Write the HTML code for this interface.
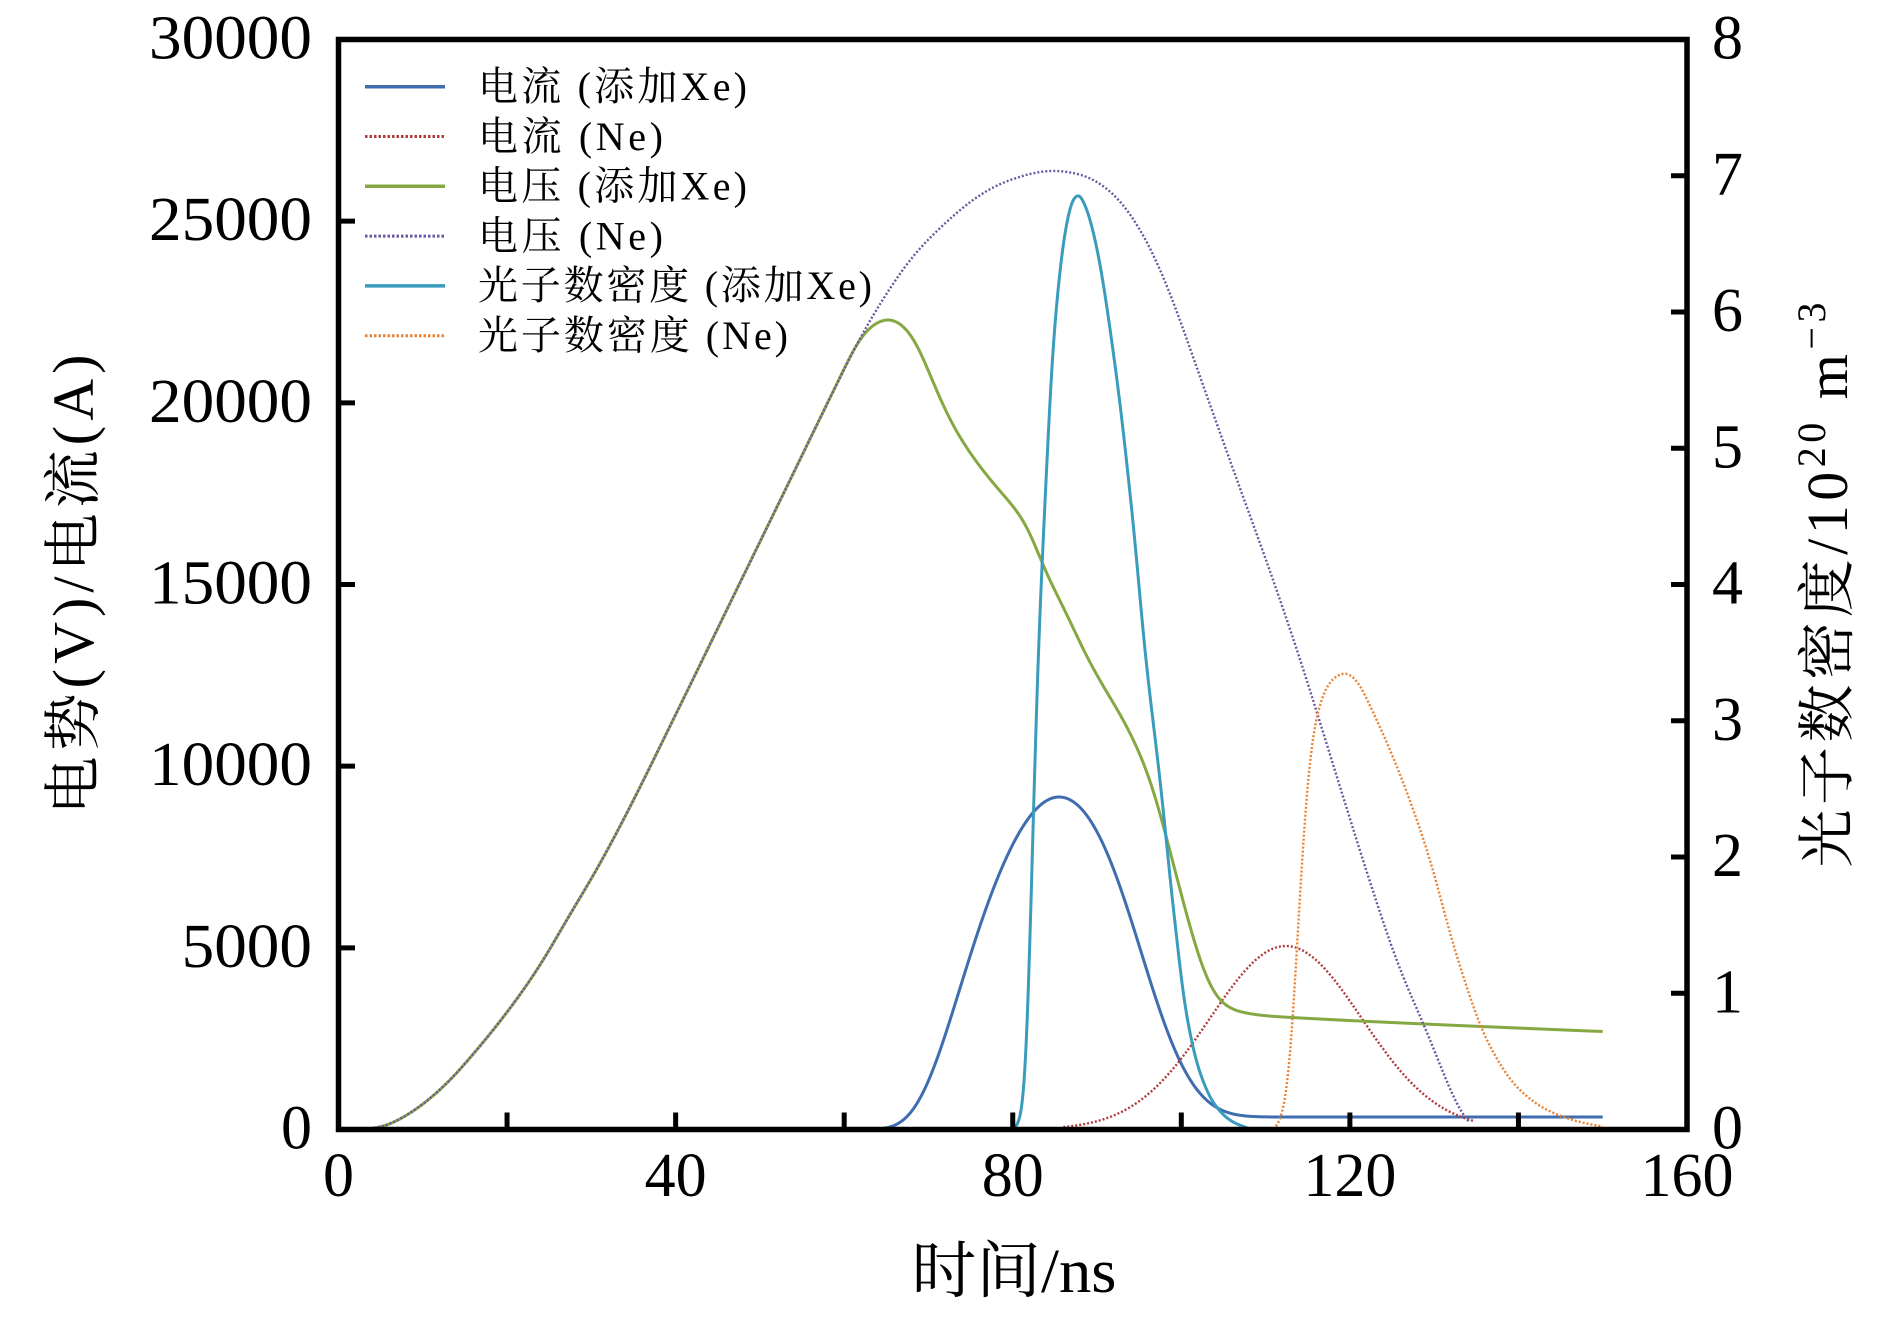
<!DOCTYPE html>
<html>
<head>
<meta charset="utf-8">
<style>
  html, body { margin: 0; padding: 0; background: #ffffff; }
  body { width: 1890px; height: 1323px; overflow: hidden; }
  svg { display: block; }
  .num { font-family: "Liberation Serif", serif; font-size: 62px; fill: #000; }
  .lab { font-family: "Liberation Serif", "Noto Serif CJK SC", serif; font-size: 58px; fill: #000; }
  .leg { font-family: "Liberation Serif", "Noto Serif CJK SC", serif; font-size: 40px; fill: #000; }
</style>
</head>
<body>
<svg id="chart" width="1890" height="1323" viewBox="0 0 1890 1323" xmlns="http://www.w3.org/2000/svg">
  <rect x="0" y="0" width="1890" height="1323" fill="#ffffff"/>

  <!-- curves (filled by script) -->
  <g id="curves" fill="none" stroke-linejoin="round"></g>

  <!-- frame -->
  <rect x="338.5" y="39.5" width="1348.5" height="1090" fill="none" stroke="#000" stroke-width="5.5"/>

  <!-- ticks -->
  <g stroke="#000" stroke-width="5">
    <line x1="338.5" x2="355" y1="947.83" y2="947.83"/>
    <line x1="338.5" x2="355" y1="766.17" y2="766.17"/>
    <line x1="338.5" x2="355" y1="584.5" y2="584.5"/>
    <line x1="338.5" x2="355" y1="402.83" y2="402.83"/>
    <line x1="338.5" x2="355" y1="221.17" y2="221.17"/>
    <line x1="1671" x2="1687" y1="993.25" y2="993.25"/>
    <line x1="1671" x2="1687" y1="857" y2="857"/>
    <line x1="1671" x2="1687" y1="720.75" y2="720.75"/>
    <line x1="1671" x2="1687" y1="584.5" y2="584.5"/>
    <line x1="1671" x2="1687" y1="448.25" y2="448.25"/>
    <line x1="1671" x2="1687" y1="312" y2="312"/>
    <line x1="1671" x2="1687" y1="175.75" y2="175.75"/>
    <line x1="507.06" x2="507.06" y1="1129.5" y2="1112.5"/>
    <line x1="675.63" x2="675.63" y1="1129.5" y2="1112.5"/>
    <line x1="844.19" x2="844.19" y1="1129.5" y2="1112.5"/>
    <line x1="1012.75" x2="1012.75" y1="1129.5" y2="1112.5"/>
    <line x1="1181.31" x2="1181.31" y1="1129.5" y2="1112.5"/>
    <line x1="1349.88" x2="1349.88" y1="1129.5" y2="1112.5"/>
    <line x1="1518.44" x2="1518.44" y1="1129.5" y2="1112.5"/>
  </g>

  <!-- left tick labels -->
  <g class="num" text-anchor="end">
    <text x="312" y="58.5" textLength="163" lengthAdjust="spacingAndGlyphs">30000</text>
    <text x="312" y="240.2" textLength="163" lengthAdjust="spacingAndGlyphs">25000</text>
    <text x="312" y="421.8" textLength="163" lengthAdjust="spacingAndGlyphs">20000</text>
    <text x="312" y="603.5" textLength="163" lengthAdjust="spacingAndGlyphs">15000</text>
    <text x="312" y="785.2" textLength="163" lengthAdjust="spacingAndGlyphs">10000</text>
    <text x="312" y="966.8" textLength="130.4" lengthAdjust="spacingAndGlyphs">5000</text>
    <text x="312" y="1148.5">0</text>
  </g>

  <!-- right tick labels -->
  <g class="num" text-anchor="start">
    <text x="1712" y="58.5">8</text>
    <text x="1712" y="194.75">7</text>
    <text x="1712" y="331">6</text>
    <text x="1712" y="467.25">5</text>
    <text x="1712" y="603.5">4</text>
    <text x="1712" y="739.75">3</text>
    <text x="1712" y="876">2</text>
    <text x="1712" y="1012.25">1</text>
    <text x="1712" y="1148.5">0</text>
  </g>

  <!-- bottom tick labels -->
  <g class="num" text-anchor="middle">
    <text x="338.5" y="1196">0</text>
    <text x="675.6" y="1196">40</text>
    <text x="1012.75" y="1196">80</text>
    <text x="1349.9" y="1196">120</text>
    <text x="1687" y="1196">160</text>
  </g>

  <!-- axis titles -->
  <text class="lab" x="1014" y="1292" text-anchor="middle" style="font-size:62px" textLength="205" lengthAdjust="spacingAndGlyphs">时间/ns</text>
  <text class="lab" transform="translate(93,584.5) rotate(-90)" x="0" y="0" text-anchor="middle" textLength="460" lengthAdjust="spacing">电势(V)/电流(A)</text>
  <text class="lab" transform="translate(1847,585) rotate(-90)" x="0" y="0" text-anchor="middle" textLength="565" lengthAdjust="spacing">光子数密度/10<tspan font-size="40" dy="-22">20</tspan><tspan dy="22"> m</tspan><tspan font-size="40" dy="-22">−3</tspan></text>

  <!-- legend -->
  <g stroke-width="3.5" fill="none">
    <line x1="365" x2="445" y1="86.7" y2="86.7" stroke="#3f6db0"/>
    <line x1="365" x2="445" y1="136.5" y2="136.5" stroke="#b23c3c" stroke-dasharray="2.5 2" stroke-width="3"/>
    <line x1="365" x2="445" y1="186.3" y2="186.3" stroke="#86a843"/>
    <line x1="365" x2="445" y1="236.1" y2="236.1" stroke="#6b56a0" stroke-dasharray="2.5 2" stroke-width="3"/>
    <line x1="365" x2="445" y1="285.9" y2="285.9" stroke="#3a9cbd"/>
    <line x1="365" x2="445" y1="335.7" y2="335.7" stroke="#ea8232" stroke-dasharray="2.5 2" stroke-width="3"/>
  </g>
  <g class="leg">
    <text x="478" y="100" textLength="269" lengthAdjust="spacing">电流 (添加Xe)</text>
    <text x="478" y="149.8" textLength="185" lengthAdjust="spacing">电流 (Ne)</text>
    <text x="478" y="199.6" textLength="269" lengthAdjust="spacing">电压 (添加Xe)</text>
    <text x="478" y="249.4" textLength="185" lengthAdjust="spacing">电压 (Ne)</text>
    <text x="478" y="299.2" textLength="394" lengthAdjust="spacing">光子数密度 (添加Xe)</text>
    <text x="478" y="349" textLength="310" lengthAdjust="spacing">光子数密度 (Ne)</text>
  </g>
</svg>

<script>
(function(){
  var NS = "http://www.w3.org/2000/svg";
  function X(t){ return 338.5 + t * 8.428125; }
  function YL(v){ return 1129.5 - v * 1090 / 30000; }
  function YR(n){ return 1129.5 - n * 136.25; }

  function mono(pts){
    var n = pts.length, xs = [], ys = [], d = [], m = [];
    for (var i = 0; i < n; i++){ xs.push(pts[i][0]); ys.push(pts[i][1]); }
    for (i = 0; i < n - 1; i++) d.push((ys[i+1]-ys[i])/(xs[i+1]-xs[i]));
    m[0] = d[0]; m[n-1] = d[n-2];
    for (i = 1; i < n - 1; i++){
      if (d[i-1] * d[i] <= 0) m[i] = 0;
      else {
        var h0 = xs[i]-xs[i-1], h1 = xs[i+1]-xs[i];
        var w1 = 2*h1 + h0, w2 = h1 + 2*h0;
        m[i] = (w1 + w2) / (w1 / d[i-1] + w2 / d[i]);
      }
    }
    return {
      x0: xs[0], x1: xs[n-1],
      f: function(x){
        if (x <= xs[0]) return ys[0];
        if (x >= xs[n-1]) return ys[n-1];
        var k = 0;
        while (k < n - 2 && x > xs[k+1]) k++;
        var h = xs[k+1] - xs[k], t = (x - xs[k]) / h;
        var t2 = t*t, t3 = t2*t;
        return (2*t3 - 3*t2 + 1)*ys[k] + (t3 - 2*t2 + t)*h*m[k] +
               (-2*t3 + 3*t2)*ys[k+1] + (t3 - t2)*h*m[k+1];
      }
    };
  }

  function sampled(fn, x0, x1, sig){
    var step = 0.05, pad = sig > 0 ? 3*sig : 0;
    var ts = [], vs = [];
    for (var t = x0 - pad; t <= x1 + pad + 1e-9; t += step){ ts.push(t); vs.push(fn(Math.max(x0, Math.min(x1, t)))); }
    var out = [];
    if (sig > 0){
      var r = Math.ceil(pad / step), w = [];
      for (var k = -r; k <= r; k++) w.push(Math.exp(-(k*step)*(k*step)/(2*sig*sig)));
      for (var i = 0; i < ts.length; i++){
        if (ts[i] < x0 - 1e-9 || ts[i] > x1 + 1e-9) continue;
        var s = 0, sw = 0;
        for (var j = -r; j <= r; j++){
          var q = i + j; if (q < 0 || q >= ts.length) continue;
          s += w[j + r] * vs[q]; sw += w[j + r];
        }
        out.push([ts[i], s / sw]);
      }
    } else {
      for (var i2 = 0; i2 < ts.length; i2++) out.push([ts[i2], vs[i2]]);
    }
    return out;
  }

  function toPath(arr, yfun){
    var o = [];
    for (var i = 0; i < arr.length; i++){
      o.push((i ? "L" : "M") + X(arr[i][0]).toFixed(2) + " " + yfun(arr[i][1]).toFixed(2));
    }
    return o.join("");
  }

  function add(d, color, width, dash){
    var p = document.createElementNS(NS, "path");
    p.setAttribute("d", d);
    p.setAttribute("stroke", color);
    p.setAttribute("stroke-width", width);
    p.setAttribute("fill", "none");
    if (dash) p.setAttribute("stroke-dasharray", dash);
    document.getElementById("curves").appendChild(p);
  }

  function fromPts(pts, yfun, sig){
    var s = mono(pts);
    return toPath(sampled(s.f, s.x0, s.x1, sig), yfun);
  }

  var rise = [[2.8,0],[5,60],[8.46,443],[12.7,1233],[16,2080],[20.2,3288],[24,4550],[27.2,5818],
              [30.5,7100],[34.2,8700],[39.9,11370],[46,14270],[53,17600],[59.6,20740],[61.9,21800]];

  var purple = rise.concat([[64.7,22890],[68,24000],[72,24950],[75.5,25630],[79.1,26090],[84.8,26400],
              [88.4,26270],[92,25750],[95.6,24590],[98.4,23180],[102,20860],[106.3,18070],[110.6,15320],
              [114.2,12870],[118,10050],[122,7090],[126,4350],[129.2,2670],[131.5,1300],[133,500],[134.2,0]]);

  var green = rise.concat([[63.5,22180],[65.4,22340],[67,22150],[68.5,21700],[70.3,20700],[72.6,19500],
              [75.5,18430],[78,17700],[80.5,17030],[82,16500],[83.4,15600],[86.3,14240],[88.8,13000],
              [90.6,12250],[93.4,11160],[96.3,9650],[98.4,7900],[100.6,5930],[102.7,4300],[104.2,3600],
              [105.8,3320],[107.7,3200],[110,3130],[114.9,3060],[129.2,2900],[150,2695]]);

  function blueF(t){
    var dt = t - 85.5, L;
    if (dt < 0){ var a = -dt; L = a*a/200 + Math.pow(a/16.5, 5.33); }
    else { L = dt*dt/200 + Math.pow(dt/16.2, 3.6); }
    return 9151*Math.exp(-L) + 344/(1 + Math.exp(-(t-100)/2));
  }
  function redF(t){
    return 5050 * Math.exp(-(t-112.4)*(t-112.4)/(2*81));
  }

  var cyan = [[80,0],[80.5,0.03],[81,0.12],[81.5,0.45],[82,1.3],[82.5,2.42],[83,3.44],[83.8,4.57],
              [84.8,5.75],[85.6,6.3],[86.3,6.62],[87.2,6.83],[87.8,6.86],[88.6,6.78],[89.8,6.52],
              [92.2,5.58],[94.2,4.5],[95.8,3.45],[97.5,2.55],[99.1,1.6],[100.6,0.85],[102.2,0.42],
              [104,0.18],[106,0.06],[108.3,0]];

  var orange = [[111.2,0],[112,0.1],[112.7,0.34],[113.3,0.85],[113.8,1.43],[114.9,2.51],[115.6,2.9],
              [116.3,3.1],[117.8,3.3],[119.5,3.352],[121,3.28],[122,3.16],[125.6,2.66],[129.2,2.04],
              [132.7,1.27],[136.3,0.65],[140,0.3],[143.5,0.14],[147,0.06],[150,0.02]];

  add(toPath(sampled(blueF, 62, 150, 0), YL), "#3f6db0", 3);
  add(toPath(sampled(redF, 86, 134.6, 0), YL), "#b23c3c", 2.4, "2 2");
  add(fromPts(green, YL, 1.0), "#86a843", 3);
  add(fromPts(purple, YL, 1.2), "#6b56a0", 2.4, "2 2");
  add(fromPts(cyan, YR, 0.25), "#3a9cbd", 3);
  add(fromPts(orange, YR, 0.5), "#ea8232", 2.4, "2 2");
})();
</script>
</body>
</html>
